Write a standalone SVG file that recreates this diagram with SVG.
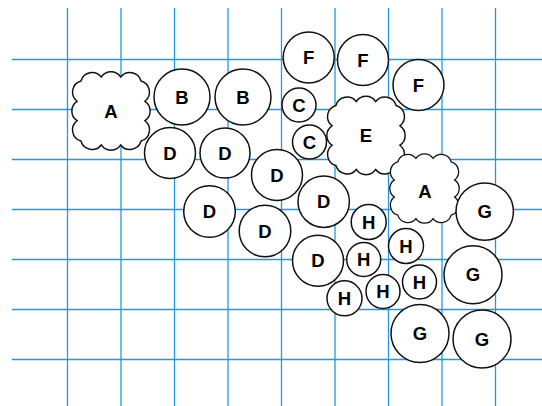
<svg xmlns="http://www.w3.org/2000/svg" width="542" height="406" viewBox="0 0 542 406">
<style>
.grid line{stroke:#1e9be0;stroke-width:1.3}
.n circle,.n use{fill:#fff;stroke:#111;stroke-width:1.5}
.n text{font-family:"Liberation Sans",Arial,sans-serif;font-weight:bold;font-size:18.5px;text-anchor:middle;fill:#000}
</style>
<defs>
<path id="cloud" d="M -31 -31 A 12 12 0 0 1 -10 -35 A 12 12 0 0 1 10 -35 A 12 12 0 0 1 31 -31 A 12 12 0 0 1 35 -10 A 12 12 0 0 1 35 10 A 12 12 0 0 1 31 31 A 12 12 0 0 1 10 35 A 12 12 0 0 1 -10 35 A 12 12 0 0 1 -31 31 A 12 12 0 0 1 -35 10 A 12 12 0 0 1 -35 -10 A 12 12 0 0 1 -31 -31 Z"/>
</defs>
<rect width="542" height="406" fill="#fff"/>
<g class="grid">
<line x1="67.5" y1="8" x2="67.5" y2="406"/>
<line x1="121" y1="8" x2="121" y2="406"/>
<line x1="174.5" y1="8" x2="174.5" y2="406"/>
<line x1="228" y1="8" x2="228" y2="406"/>
<line x1="281.5" y1="8" x2="281.5" y2="406"/>
<line x1="335" y1="8" x2="335" y2="406"/>
<line x1="388.5" y1="8" x2="388.5" y2="406"/>
<line x1="442" y1="8" x2="442" y2="406"/>
<line x1="495.5" y1="8" x2="495.5" y2="406"/>
<line x1="12" y1="59.5" x2="542" y2="59.5"/>
<line x1="12" y1="109.5" x2="542" y2="109.5"/>
<line x1="12" y1="159.5" x2="542" y2="159.5"/>
<line x1="12" y1="209.5" x2="542" y2="209.5"/>
<line x1="12" y1="259.5" x2="542" y2="259.5"/>
<line x1="12" y1="309.5" x2="542" y2="309.5"/>
<line x1="12" y1="359.5" x2="542" y2="359.5"/>
</g>
<g id="connectors"></g>
<g id="A1" class="n"><use href="#cloud" transform="translate(111 111) scale(0.97)" stroke-width="1.55"/><text x="111" y="118">A</text></g>
<g id="E" class="n"><use href="#cloud" transform="translate(366 135.5) scale(0.97)" stroke-width="1.55"/><text x="366" y="142">E</text></g>
<g id="A2" class="n"><use href="#cloud" transform="translate(424.5 188.5) scale(0.86)" stroke-width="1.75"/><text x="425" y="198">A</text></g>
<g id="B1" class="n"><circle cx="182" cy="97" r="28"/><text x="182" y="103.6">B</text></g>
<g id="B2" class="n"><circle cx="243" cy="97" r="28"/><text x="243" y="103.6">B</text></g>
<g id="F1" class="n"><circle cx="308.7" cy="57.5" r="25.5"/><text x="308.7" y="64.1">F</text></g>
<g id="F2" class="n"><circle cx="363" cy="60" r="25.5"/><text x="363" y="66.6">F</text></g>
<g id="F3" class="n"><circle cx="418.5" cy="85" r="25.5"/><text x="418.5" y="91.6">F</text></g>
<g id="C1" class="n"><circle cx="299" cy="105" r="17"/><text x="299" y="111.6">C</text></g>
<g id="C2" class="n"><circle cx="309.5" cy="142" r="17"/><text x="309.5" y="148.6">C</text></g>
<g id="D1" class="n"><circle cx="170" cy="153" r="25.5"/><text x="170" y="159.6">D</text></g>
<g id="D2" class="n"><circle cx="225" cy="153" r="25"/><text x="225" y="159.6">D</text></g>
<g id="D3" class="n"><circle cx="277" cy="175" r="25.5"/><text x="277" y="181.6">D</text></g>
<g id="D4" class="n"><circle cx="209.5" cy="211.5" r="25.8"/><text x="209.5" y="218.1">D</text></g>
<g id="D6" class="n"><circle cx="323.7" cy="201.7" r="25.7"/><text x="323.7" y="208.3">D</text></g>
<g id="D5" class="n"><circle cx="265" cy="231" r="25.8"/><text x="265" y="237.6">D</text></g>
<g id="G1" class="n"><circle cx="484.7" cy="211.6" r="28.7"/><text x="484.7" y="218.2">G</text></g>
<g id="H1" class="n"><circle cx="368.7" cy="222" r="17.5"/><text x="368.7" y="228.6">H</text></g>
<g id="H2" class="n"><circle cx="406" cy="246" r="17.5"/><text x="406" y="252.6">H</text></g>
<g id="D7" class="n"><circle cx="318" cy="260.7" r="25.5"/><text x="318" y="267.3">D</text></g>
<g id="H3" class="n"><circle cx="363.7" cy="259.5" r="17"/><text x="363.7" y="266.1">H</text></g>
<g id="G2" class="n"><circle cx="473" cy="274.7" r="29"/><text x="473" y="281.3">G</text></g>
<g id="H4" class="n"><circle cx="419.5" cy="282" r="17"/><text x="419.5" y="288.6">H</text></g>
<g id="H5" class="n"><circle cx="383" cy="291.5" r="17"/><text x="383" y="298.1">H</text></g>
<g id="H6" class="n"><circle cx="344.5" cy="298.3" r="17.5"/><text x="344.5" y="304.9">H</text></g>
<g id="G3" class="n"><circle cx="420" cy="333.5" r="29"/><text x="420" y="340.1">G</text></g>
<g id="G4" class="n"><circle cx="482" cy="339" r="29"/><text x="482" y="345.6">G</text></g>
</svg>
